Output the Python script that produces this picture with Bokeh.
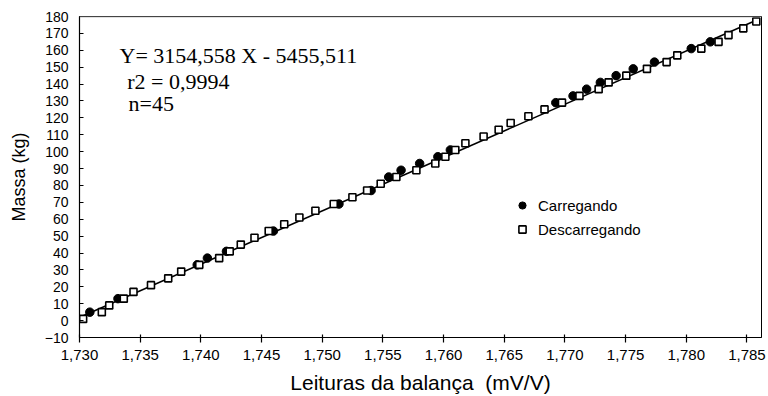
from bokeh.plotting import figure
from bokeh.models import (FixedTicker, CustomJSTickFormatter, Legend, LegendItem,
                          Label, Span, Range1d)
from bokeh.embed import file_html
from bokeh.resources import INLINE

# ---- data ----
carregando_x = [1.72979, 1.73085, 1.73317, 1.73970, 1.74054, 1.74211, 1.74598,
                1.75138, 1.75403, 1.75548, 1.75650, 1.75803, 1.75953, 1.76056,
                1.76925, 1.77067, 1.77179, 1.77292, 1.77422, 1.77563, 1.77738,
                1.78041, 1.78198]
carregando_y = [1, 5, 13, 33, 37, 41, 53, 69, 77, 85, 89, 93, 97, 101,
                129, 133, 137, 141, 145, 149, 153, 161, 165]

descarregando_x = [1.73030, 1.73184, 1.73245, 1.73365, 1.73445, 1.73589, 1.73731,
                   1.73838, 1.73987, 1.74151, 1.74238, 1.74329, 1.74442, 1.74559,
                   1.74687, 1.74812, 1.74944, 1.75095, 1.75249, 1.75370, 1.75482,
                   1.75611, 1.75776, 1.75932, 1.76015, 1.76097, 1.76180, 1.76330,
                   1.76454, 1.76553, 1.76699, 1.76832, 1.76976, 1.77120, 1.77278,
                   1.77360, 1.77506, 1.77676, 1.77838, 1.77926, 1.78124, 1.78266,
                   1.78348, 1.78470, 1.78577]
descarregando_y = [1, 5, 9, 13, 17, 21, 25, 29, 33, 37, 41, 45, 49, 53, 57,
                   61, 65, 69, 73, 77, 81, 85, 89, 93, 97, 101, 105, 109, 113, 117,
                   121, 125, 129, 133, 137, 141, 145, 149, 153, 157, 161, 165, 169,
                   173, 177]

slope = 3154.558
intercept = -5455.511

x_ticks = [1.730, 1.735, 1.740, 1.745, 1.750, 1.755, 1.760, 1.765, 1.770,
           1.775, 1.780, 1.785]
y_ticks = [-10, 0, 10, 20, 30, 40, 50, 60, 70, 80, 90, 100, 110, 120, 130,
           140, 150, 160, 170, 180]

eq_lines = ["Y= 3154,558 X - 5455,511", "r2 = 0,9994", "n=45"]
legend_labels = ["Carregando", "Descarregando"]
x_title = "Leituras da balança\u00a0 (mV/V)"
y_title = "Massa (kg)"

# ---- figure ----
p = figure(width=768, height=396, output_backend="svg", toolbar_location=None,
           x_range=Range1d(1.730, 1.7862), y_range=Range1d(-10, 180),
           min_border_left=79, min_border_right=7, min_border_top=16,
           min_border_bottom=59)
p.background_fill_color = "white"
p.border_fill_color = "white"
p.xgrid.visible = False
p.ygrid.visible = False
p.outline_line_color = "black"
p.outline_line_width = 1

# regression line
all_x = carregando_x + descarregando_x
lx = [min(all_x), max(all_x)]
ly = [slope * v + intercept for v in lx]
p.line(lx, ly, line_color="black", line_width=1.6)

r_c = p.scatter(carregando_x, carregando_y, marker="circle", size=8.5,
                fill_color="black", line_color="black", line_width=1)
r_d = p.scatter(descarregando_x, descarregando_y, marker="square", size=7,
                fill_color="white", line_color="black", line_width=1.6)

# top border grey
p.add_layout(Span(location=180, dimension="width", line_color="#888888",
                  line_width=1.5))

# axes
xa = p.xaxis[0]
xa.ticker = FixedTicker(ticks=x_ticks)
xa.formatter = CustomJSTickFormatter(code="return tick.toFixed(3).replace('.', ',');")
xa.axis_label = x_title
xa.axis_label_text_font = "Liberation Sans"
xa.axis_label_text_font_style = "normal"
xa.axis_label_text_font_size = "21px"
xa.axis_label_text_color = "black"
xa.axis_label_standoff = 8
xa.major_label_text_font = "Liberation Sans"
xa.major_label_text_font_size = "15px"
xa.major_label_text_color = "black"
xa.major_label_standoff = 7
xa.major_tick_in = 3
xa.major_tick_out = 5
xa.minor_tick_line_color = None
xa.axis_line_color = "black"
xa.axis_line_width = 1.2
xa.major_tick_line_color = "black"
xa.major_tick_line_width = 1.2

ya = p.yaxis[0]
ya.ticker = FixedTicker(ticks=y_ticks)
ya.axis_label = y_title
ya.axis_label_text_font = "Liberation Sans"
ya.axis_label_text_font_style = "normal"
ya.axis_label_text_font_size = "18px"
ya.axis_label_text_color = "black"
ya.axis_label_standoff = 13
ya.major_label_text_font = "Liberation Sans"
ya.major_label_text_font_size = "14px"
ya.major_label_text_color = "black"
ya.major_label_standoff = 11
ya.major_tick_in = 4
ya.major_tick_out = 0
ya.minor_tick_line_color = None
ya.axis_line_color = "black"
ya.axis_line_width = 1.2
ya.major_tick_line_color = "black"
ya.major_tick_line_width = 1.2

# equation text
eq_pos = [(1.7333, 156.8), (1.73393, 141.6), (1.73404, 128.4)]
for txt, (xx, yy) in zip(eq_lines, eq_pos):
    p.add_layout(Label(x=xx, y=yy, text=txt, text_font="Liberation Serif",
                       text_font_size="22px", text_color="black",
                       text_baseline="alphabetic"))

# legend
legend = Legend(items=[LegendItem(label=legend_labels[0], renderers=[r_c]),
                       LegendItem(label=legend_labels[1], renderers=[r_d])],
                location=(434, 98), orientation="vertical",
                border_line_alpha=0, background_fill_alpha=0,
                padding=0, margin=0, spacing=4,
                glyph_width=18, glyph_height=20, label_height=20,
                label_standoff=7,
                label_text_font="Liberation Sans", label_text_font_size="15px",
                label_text_color="black")
p.add_layout(legend)

open("out.html", "w").write(file_html(p, INLINE))
